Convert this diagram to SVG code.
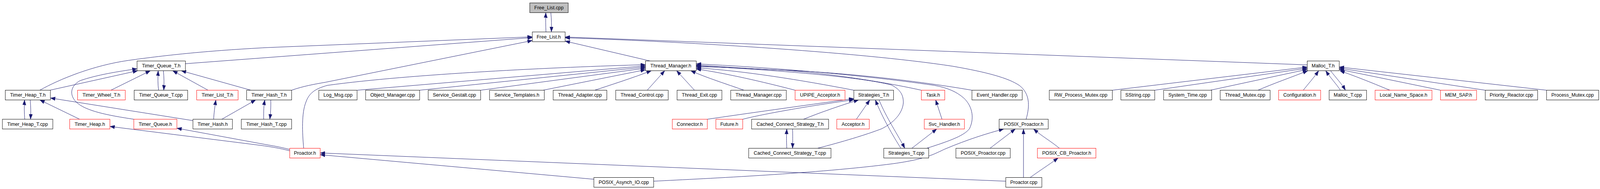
<svg xmlns="http://www.w3.org/2000/svg" width="4299" height="485" viewBox="0 0 4299 485" preserveAspectRatio="none" style="width:100%;height:100%;display:block">
<style>
.n rect{fill:#ffffff;stroke:#000000;stroke-width:1}
.r rect{stroke:#ff0000}
.g rect{fill:#bfbfbf}
.n text{font-family:"Liberation Sans",Arial,sans-serif;font-size:13px;fill:#000000;text-anchor:middle}
#edges path{fill:none;stroke:#191970;stroke-width:1;marker-end:url(#ah)}
</style>
<defs>
<marker id="ah" markerUnits="userSpaceOnUse" markerWidth="14" markerHeight="10" refX="13" refY="4.7" orient="auto">
<path d="M0,0 L13,4.7 L0,9.4 z" fill="#191970" stroke="#191970" stroke-width="0.5"/>
</marker>
</defs>
<rect width="4299" height="485" fill="#ffffff"/>
<g id="edges">
<path d="M1467,82 C1466,65 1466,50 1466.5,32.5"/>
<path d="M1480,32.5 C1482,50 1482,65 1481.5,82"/>
<path d="M107,231.5 C160,203 250,168 345,155 C450,141 560,130 720,122 L1430.3,94.5"/>
<path d="M498.2,163.5 L1430.3,96.5"/>
<path d="M783.6,231.5 C815,221 845,216 875,211 L1430.3,104"/>
<path d="M1747,156.5 L1518.5,105.5"/>
<path d="M3512.4,166.5 L1518.5,95"/>
<path d="M2757,306 C2768,270 2766,240 2740,220 C2710,200 2650,185 2560,170 C2300,132 1800,105 1518.5,97"/>
<path d="M134,231.5 L370,181.5"/>
<path d="M359.6,306 C290,296 230,285 205,262 C185,243 190,220 215,207 C260,192 320,183 368.3,176.5"/>
<path d="M298,231.5 L404,181.5"/>
<path d="M426,231.5 C424,215 424,200 425,181.5"/>
<path d="M439,181.5 C441,200 441,215 440,231.5"/>
<path d="M559,231.5 L464,181.5"/>
<path d="M674,231.5 L487,181.5"/>
<path d="M66.5,306 C65,290 65,272 66,256.5"/>
<path d="M81,256.5 C83,275 83,290 82,306"/>
<path d="M214,306 L107,256.5"/>
<path d="M518.4,309.5 L135.4,251.5"/>
<path d="M574,306 C575,290 577,275 580,256.5"/>
<path d="M596,306 L687,256.5"/>
<path d="M708.5,306 C708,285 709,270 711.5,256.5"/>
<path d="M727.5,256.5 C728,275 727,290 725,306"/>
<path d="M778.5,387 C750,380 730,377 700,373 L295.3,324.5"/>
<path d="M778.5,383.5 C760,379 740,375 720,372 L475.3,329"/>
<path d="M816,380.5 C812,340 810,290 822,262 C830,240 845,228 880,219 C1100,190 1500,172 1734.3,166"/>
<path d="M960,231.5 L1734.3,169"/>
<path d="M1127.5,231.5 L1734.3,172"/>
<path d="M1291.4,231.5 L1734.3,175"/>
<path d="M1459,231.5 L1734.3,179"/>
<path d="M1598,231.5 C1650,215 1700,200 1750,181.5"/>
<path d="M1739,231.5 L1786,181.5"/>
<path d="M1866,231.5 L1818,181.5"/>
<path d="M1999,231.5 C1950,215 1900,200 1856,181.5"/>
<path d="M2136.3,231.5 C2050,210 1950,188 1870.7,177"/>
<path d="M2294.2,231.5 C2150,205 2000,182 1870.7,174"/>
<path d="M2475.6,231.5 C2350,205 2200,186 2100,180 C2000,175 1930,172 1870.7,171"/>
<path d="M2611.5,231.5 C2450,205 2250,185 2100,180 C2000,176 1930,170 1870.7,167"/>
<path d="M2490,380.5 C2540,365 2590,350 2605,330 C2620,300 2610,270 2590,252 C2570,235 2545,225 2510,219 C2300,190 2050,172 1870.7,164"/>
<path d="M2196.4,380.5 C2260,365 2330,345 2370,330 C2410,310 2425,285 2427,265 C2428,245 2420,230 2395,218 C2300,195 2050,178 1870.7,169"/>
<path d="M1900.5,306 C2000,292 2150,272 2294.2,253"/>
<path d="M1995.6,306 C2040,295 2150,275 2294.2,256"/>
<path d="M2159,306 C2200,290 2260,270 2307,256.5"/>
<path d="M2301,306 L2337,256.5"/>
<path d="M2420.6,380.5 C2400,350 2370,300 2352,256.5"/>
<path d="M2362,256.5 C2380,300 2415,350 2431,380.5"/>
<path d="M2531,306 L2514,256.5"/>
<path d="M2450,380.5 L2517,331"/>
<path d="M2114,380.5 C2113,360 2113,350 2114,331"/>
<path d="M2129.6,331 C2130,350 2130,360 2129.6,380.5"/>
<path d="M1756.3,465 C1900,458 2200,445 2400,420 C2490,408 2510,395 2540,382 C2600,358 2650,343 2697,331"/>
<path d="M2660,380.5 L2728,331"/>
<path d="M2750,455.5 L2750,331"/>
<path d="M2846.7,380.5 C2820,360 2800,350 2777,331"/>
<path d="M2768,455.5 C2790,440 2815,425 2843,405.5"/>
<path d="M2702.4,465 L860.3,392.5"/>
<path d="M1595.6,460 L860.3,397"/>
<path d="M2988.7,231.5 L3512.4,172"/>
<path d="M3102.6,231.5 L3512.4,175"/>
<path d="M3252,231.5 L3512.4,178"/>
<path d="M3380,231.5 C3420,215 3470,198 3514,181.5"/>
<path d="M3501.7,231.5 C3515,215 3530,200 3543,181.5"/>
<path d="M3601.7,231.5 C3590,215 3575,200 3562,181.5"/>
<path d="M3575,181.5 C3590,200 3605,215 3615,231.5"/>
<path d="M3734.4,231.5 C3680,210 3640,195 3600,181.5"/>
<path d="M3870.5,231.5 L3598.3,178"/>
<path d="M3990.7,231.5 L3598.3,175"/>
<path d="M4155.4,231.5 L3598.3,172"/>
</g>
<g id="n_free_list_cpp" class="n g"><rect x="1423.4" y="7.5" width="103.3" height="25"/><text x="1475" y="24.5">Free_List.cpp</text></g>
<g id="n_free_list_h" class="n"><rect x="1430.3" y="82" width="88.2" height="25"/><text x="1474.4" y="99">Free_List.h</text></g>
<g id="n_timer_queue_t_h" class="n"><rect x="368.3" y="156.5" width="129.9" height="25"/><text x="433.2" y="173.5">Timer_Queue_T.h</text></g>
<g id="n_thread_manager_h" class="n"><rect x="1734.3" y="156.5" width="136.4" height="25"/><text x="1802.5" y="173.5">Thread_Manager.h</text></g>
<g id="n_malloc_t_h" class="n"><rect x="3512.4" y="156.5" width="85.9" height="25"/><text x="3555.3" y="173.5">Malloc_T.h</text></g>
<g id="n_timer_heap_t_h" class="n"><rect x="14.3" y="231.5" width="121.1" height="25"/><text x="74.8" y="248.5">Timer_Heap_T.h</text></g>
<g id="n_timer_wheel_t_h" class="n r"><rect x="208.5" y="231.5" width="128.1" height="25"/><text x="272.5" y="248.5">Timer_Wheel_T.h</text></g>
<g id="n_timer_queue_t_cpp" class="n"><rect x="360.5" y="231.5" width="143.7" height="25"/><text x="432.3" y="248.5">Timer_Queue_T.cpp</text></g>
<g id="n_timer_list_t_h" class="n r"><rect x="528.5" y="231.5" width="111.2" height="25"/><text x="584.1" y="248.5">Timer_List_T.h</text></g>
<g id="n_timer_hash_t_h" class="n"><rect x="662.6" y="231.5" width="121" height="25"/><text x="723.1" y="248.5">Timer_Hash_T.h</text></g>
<g id="n_log_msg_cpp" class="n"><rect x="856.6" y="231.5" width="102.8" height="25"/><text x="908" y="248.5">Log_Msg.cpp</text></g>
<g id="n_object_manager_cpp" class="n"><rect x="982.4" y="231.5" width="145.1" height="25"/><text x="1055" y="248.5">Object_Manager.cpp</text></g>
<g id="n_service_gestalt_cpp" class="n"><rect x="1150.5" y="231.5" width="140.9" height="25"/><text x="1221" y="248.5">Service_Gestalt.cpp</text></g>
<g id="n_service_templates_h" class="n"><rect x="1315.3" y="231.5" width="147.1" height="25"/><text x="1388.9" y="248.5">Service_Templates.h</text></g>
<g id="n_thread_adapter_cpp" class="n"><rect x="1486.3" y="231.5" width="144.2" height="25"/><text x="1558.4" y="248.5">Thread_Adapter.cpp</text></g>
<g id="n_thread_control_cpp" class="n"><rect x="1654.4" y="231.5" width="141" height="25"/><text x="1724.9" y="248.5">Thread_Control.cpp</text></g>
<g id="n_thread_exit_cpp" class="n"><rect x="1819.2" y="231.5" width="120.4" height="25"/><text x="1879.4" y="248.5">Thread_Exit.cpp</text></g>
<g id="n_thread_manager_cpp" class="n"><rect x="1963.4" y="231.5" width="149.3" height="25"/><text x="2038" y="248.5">Thread_Manager.cpp</text></g>
<g id="n_upipe_acceptor_h" class="n r"><rect x="2136.3" y="231.5" width="134.1" height="25"/><text x="2203.4" y="248.5">UPIPE_Acceptor.h</text></g>
<g id="n_strategies_t_h" class="n"><rect x="2294.2" y="231.5" width="106.6" height="25"/><text x="2347.5" y="248.5">Strategies_T.h</text></g>
<g id="n_task_h" class="n r"><rect x="2475.6" y="231.5" width="62.9" height="25"/><text x="2507" y="248.5">Task.h</text></g>
<g id="n_event_handler_cpp" class="n"><rect x="2611.5" y="231.5" width="135.1" height="25"/><text x="2679" y="248.5">Event_Handler.cpp</text></g>
<g id="n_rw_process_mutex_cpp" class="n"><rect x="2819.3" y="231.5" width="169.4" height="25"/><text x="2904" y="248.5">RW_Process_Mutex.cpp</text></g>
<g id="n_sstring_cpp" class="n"><rect x="3011.7" y="231.5" width="90.9" height="25"/><text x="3057.1" y="248.5">SString.cpp</text></g>
<g id="n_system_time_cpp" class="n"><rect x="3126.5" y="231.5" width="129" height="25"/><text x="3191" y="248.5">System_Time.cpp</text></g>
<g id="n_thread_mutex_cpp" class="n"><rect x="3278.5" y="231.5" width="134.1" height="25"/><text x="3345.5" y="248.5">Thread_Mutex.cpp</text></g>
<g id="n_configuration_h" class="n r"><rect x="3435.5" y="231.5" width="112.9" height="25"/><text x="3492" y="248.5">Configuration.h</text></g>
<g id="n_malloc_t_cpp" class="n"><rect x="3571.3" y="231.5" width="100.4" height="25"/><text x="3621.5" y="248.5">Malloc_T.cpp</text></g>
<g id="n_local_name_space_h" class="n r"><rect x="3694.7" y="231.5" width="152.8" height="25"/><text x="3771.1" y="248.5">Local_Name_Space.h</text></g>
<g id="n_mem_sap_h" class="n r"><rect x="3870.5" y="231.5" width="96.8" height="25"/><text x="3918.9" y="248.5">MEM_SAP.h</text></g>
<g id="n_priority_reactor_cpp" class="n"><rect x="3990.7" y="231.5" width="140.7" height="25"/><text x="4061" y="248.5">Priority_Reactor.cpp</text></g>
<g id="n_process_mutex_cpp" class="n"><rect x="4155.4" y="231.5" width="140.1" height="25"/><text x="4225.4" y="248.5">Process_Mutex.cpp</text></g>
<g id="n_timer_heap_t_cpp" class="n"><rect x="6.4" y="306" width="135.5" height="25"/><text x="74.1" y="323">Timer_Heap_T.cpp</text></g>
<g id="n_timer_heap_h" class="n r"><rect x="187.3" y="306" width="108" height="25"/><text x="241.3" y="323">Timer_Heap.h</text></g>
<g id="n_timer_queue_h" class="n r"><rect x="359.6" y="306" width="115.7" height="25"/><text x="417.4" y="323">Timer_Queue.h</text></g>
<g id="n_timer_hash_h" class="n"><rect x="518.4" y="306" width="106.1" height="25"/><text x="571.4" y="323">Timer_Hash.h</text></g>
<g id="n_timer_hash_t_cpp" class="n"><rect x="648.4" y="306" width="135.2" height="25"/><text x="716" y="323">Timer_Hash_T.cpp</text></g>
<g id="n_connector_h" class="n r"><rect x="1806.4" y="306" width="94.1" height="25"/><text x="1853.4" y="323">Connector.h</text></g>
<g id="n_future_h" class="n r"><rect x="1923.5" y="306" width="72.1" height="25"/><text x="1959.5" y="323">Future.h</text></g>
<g id="n_cached_connect_strategy_t_h" class="n"><rect x="2019.5" y="306" width="206.8" height="25"/><text x="2122.9" y="323">Cached_Connect_Strategy_T.h</text></g>
<g id="n_acceptor_h" class="n r"><rect x="2248.3" y="306" width="87.3" height="25"/><text x="2292" y="323">Acceptor.h</text></g>
<g id="n_svc_handler_h" class="n r"><rect x="2483.4" y="306" width="107.9" height="25"/><text x="2537.3" y="323">Svc_Handler.h</text></g>
<g id="n_posix_proactor_h" class="n"><rect x="2684.6" y="306" width="131.8" height="25"/><text x="2750.5" y="323">POSIX_Proactor.h</text></g>
<g id="n_proactor_h" class="n r"><rect x="778.5" y="380.5" width="81.8" height="25"/><text x="819.4" y="397.5">Proactor.h</text></g>
<g id="n_cached_connect_strategy_t_cpp" class="n"><rect x="2011.7" y="380.5" width="221" height="25"/><text x="2122.2" y="397.5">Cached_Connect_Strategy_T.cpp</text></g>
<g id="n_strategies_t_cpp" class="n"><rect x="2374.6" y="380.5" width="120.8" height="25"/><text x="2435" y="397.5">Strategies_T.cpp</text></g>
<g id="n_posix_proactor_cpp" class="n"><rect x="2568.4" y="380.5" width="146" height="25"/><text x="2641.4" y="397.5">POSIX_Proactor.cpp</text></g>
<g id="n_posix_cb_proactor_h" class="n r"><rect x="2787.4" y="380.5" width="157.2" height="25"/><text x="2866" y="397.5">POSIX_CB_Proactor.h</text></g>
<g id="n_posix_asynch_io_cpp" class="n"><rect x="1595.6" y="455.5" width="160.7" height="25"/><text x="1676" y="472.5">POSIX_Asynch_IO.cpp</text></g>
<g id="n_proactor_cpp" class="n"><rect x="2702.4" y="455.5" width="96.9" height="25"/><text x="2750.8" y="472.5">Proactor.cpp</text></g>
</svg>
